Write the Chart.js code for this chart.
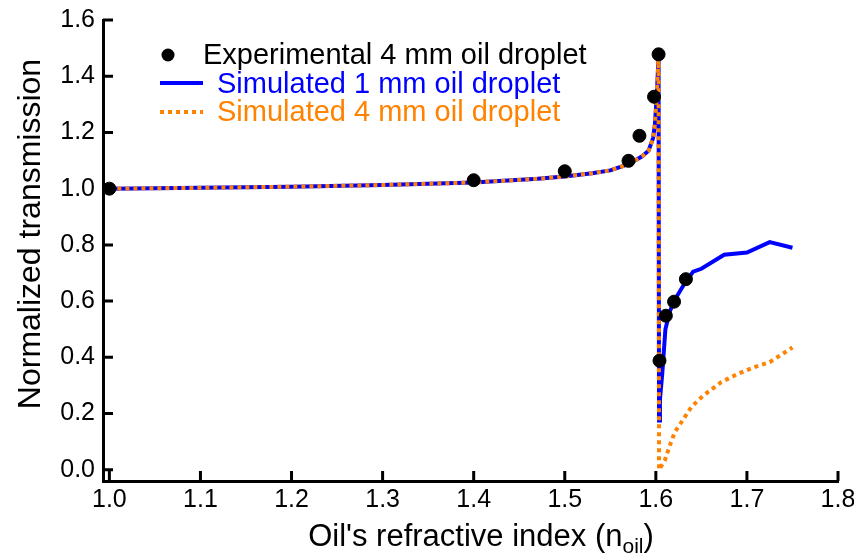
<!DOCTYPE html>
<html lang="en">
<head>
    <meta charset="UTF-8">
    <title>Normalized transmission vs refractive index</title>
    <script src="https://cdn.jsdelivr.net/npm/chart.js"></script>
    <style>
        body {
            margin: 0;
            background: white;
        }
        canvas {
            display: block;
        }
    </style>
</head>
<body>
    <canvas id="chart" width="854" height="554"></canvas>

    <script>
        // tick labels
        const xTicks = [1.0, 1.1, 1.2, 1.3, 1.4, 1.5, 1.6, 1.7, 1.8];
        const yTicks = [0.0, 0.2, 0.4, 0.6, 0.8, 1.0, 1.2, 1.4, 1.6];

        // experimental 4 mm droplet
        const expN = [1.0, 1.4, 1.5, 1.57, 1.582, 1.598, 1.603, 1.604, 1.611, 1.62, 1.633];
        const expT = [1.0, 1.03, 1.062, 1.099, 1.188, 1.327, 1.478, 0.388, 0.548, 0.598, 0.678];

        // simulated 1 mm droplet
        const sim1N = [1.0, 1.1, 1.2, 1.3, 1.4, 1.47, 1.5, 1.53, 1.55, 1.57, 1.585, 1.592, 1.597, 1.599, 1.601, 1.603,
                       1.6035, 1.6045, 1.607, 1.6105, 1.615, 1.62, 1.632, 1.641, 1.65, 1.675, 1.70, 1.725, 1.75];
        const sim1T = [1.0, 1.003, 1.007, 1.013, 1.022, 1.035, 1.043, 1.055, 1.065, 1.087, 1.115, 1.135, 1.18, 1.23, 1.33, 1.47,
                       0.175, 0.25, 0.34, 0.50, 0.56, 0.60, 0.665, 0.705, 0.715, 0.765, 0.773, 0.81, 0.79];

        // simulated 4 mm droplet
        const sim4N = [1.0, 1.1, 1.2, 1.3, 1.4, 1.47, 1.5, 1.53, 1.55, 1.57, 1.585, 1.592, 1.597, 1.599, 1.601, 1.603,
                       1.6035, 1.6098, 1.6153, 1.6208, 1.628, 1.639, 1.648, 1.657, 1.672, 1.69, 1.708, 1.725, 1.75];
        const sim4T = [1.0, 1.003, 1.007, 1.013, 1.022, 1.035, 1.043, 1.055, 1.065, 1.087, 1.115, 1.135, 1.18, 1.23, 1.33, 1.47,
                       0.0, 0.033, 0.086, 0.134, 0.169, 0.223, 0.252, 0.276, 0.312, 0.341, 0.365, 0.383, 0.435];

        const FONT = "'Liberation Sans', Arial, sans-serif";
        const BLUE = '#0000ff';
        const ORANGE = '#ff8200';

        const toPoints = (xs, ys) => xs.map((x, i) => ({x: x, y: ys[i]}));

        // inward tick marks, axis titles and the in-plot legend
        const decorations = {
            id: 'decorations',
            afterDraw(chart) {
                const ctx = chart.ctx;
                const area = chart.chartArea;
                const xs = chart.scales.x;
                const ys = chart.scales.y;
                ctx.save();
                ctx.strokeStyle = 'black';
                ctx.lineWidth = 3;
                ctx.beginPath();
                xTicks.forEach(v => {
                    const px = xs.getPixelForValue(v);
                    ctx.moveTo(px, area.bottom);
                    ctx.lineTo(px, area.bottom - 10);
                });
                yTicks.forEach(v => {
                    const py = ys.getPixelForValue(v);
                    ctx.moveTo(area.left, py);
                    ctx.lineTo(area.left + 10, py);
                });
                ctx.stroke();

                // y title
                ctx.fillStyle = 'black';
                ctx.font = '32px ' + FONT;
                ctx.textAlign = 'center';
                ctx.textBaseline = 'alphabetic';
                ctx.save();
                ctx.translate(40, 234);
                ctx.rotate(-Math.PI / 2);
                ctx.fillText('Normalized transmission', 0, 0);
                ctx.restore();

                // x title with subscript
                const main = "Oil's refractive index (n";
                ctx.font = '31px ' + FONT;
                const w1 = ctx.measureText(main).width;
                ctx.font = '21px ' + FONT;
                const w2 = ctx.measureText('oil').width;
                ctx.font = '31px ' + FONT;
                const w3 = ctx.measureText(')').width;
                let x0 = 481 - (w1 + w2 + w3) / 2;
                ctx.textAlign = 'left';
                ctx.fillText(main, x0, 546);
                ctx.font = '21px ' + FONT;
                ctx.fillText('oil', x0 + w1, 553);
                ctx.font = '31px ' + FONT;
                ctx.fillText(')', x0 + w1 + w2, 546);

                // legend
                ctx.font = '29px ' + FONT;
                ctx.fillStyle = 'black';
                ctx.beginPath();
                ctx.arc(168, 55, 6.5, 0, Math.PI * 2);
                ctx.fill();
                ctx.fillText('Experimental 4 mm oil droplet', 203, 64);

                ctx.lineWidth = 4;
                ctx.strokeStyle = BLUE;
                ctx.beginPath();
                ctx.moveTo(160, 83);
                ctx.lineTo(203, 83);
                ctx.stroke();
                ctx.fillStyle = BLUE;
                ctx.fillText('Simulated 1 mm oil droplet', 217, 93);

                ctx.strokeStyle = ORANGE;
                ctx.setLineDash([4, 4]);
                ctx.beginPath();
                ctx.moveTo(160, 112);
                ctx.lineTo(203, 112);
                ctx.stroke();
                ctx.setLineDash([]);
                ctx.fillStyle = ORANGE;
                ctx.fillText('Simulated 4 mm oil droplet', 217, 121);
                ctx.restore();
            }
        };

        const ctx = document.getElementById('chart').getContext('2d');
        new Chart(ctx, {
            type: 'scatter',
            data: {
                datasets: [
                    {
                        label: 'Experimental 4 mm oil droplet',
                        data: toPoints(expN, expT),
                        backgroundColor: 'black',
                        borderColor: 'black',
                        pointRadius: 6.5,
                        showLine: false,
                        order: 0
                    },
                    {
                        label: 'Simulated 1 mm oil droplet',
                        data: toPoints(sim1N, sim1T),
                        borderColor: BLUE,
                        borderWidth: 4,
                        pointRadius: 0,
                        showLine: true,
                        tension: 0,
                        order: 2
                    },
                    {
                        label: 'Simulated 4 mm oil droplet',
                        data: toPoints(sim4N, sim4T),
                        borderColor: ORANGE,
                        borderWidth: 4,
                        borderDash: [4, 4],
                        pointRadius: 0,
                        showLine: true,
                        tension: 0,
                        order: 1
                    }
                ]
            },
            options: {
                responsive: false,
                animation: false,
                devicePixelRatio: 1,
                layout: {
                    padding: {top: 20, right: 16, left: 0, bottom: 0}
                },
                plugins: {
                    legend: {display: false},
                    tooltip: {enabled: false}
                },
                scales: {
                    x: {
                        type: 'linear',
                        min: 0.993,
                        max: 1.8,
                        afterBuildTicks: scale => {
                            scale.ticks = xTicks.map(v => ({value: v}));
                        },
                        afterFit: scale => {
                            scale.height = 73;
                            scale.paddingLeft = 0;
                            scale.paddingRight = 0;
                        },
                        grid: {display: false, drawTicks: false},
                        border: {color: 'black', width: 3},
                        ticks: {
                            color: 'black',
                            font: {family: FONT, size: 25},
                            padding: 4,
                            maxRotation: 0,
                            callback: v => v.toFixed(1)
                        }
                    },
                    y: {
                        type: 'linear',
                        min: -0.04,
                        max: 1.6,
                        afterBuildTicks: scale => {
                            scale.ticks = yTicks.map(v => ({value: v}));
                        },
                        afterFit: scale => {
                            scale.width = 103;
                            scale.paddingTop = 0;
                            scale.paddingBottom = 0;
                        },
                        grid: {display: false, drawTicks: false},
                        border: {color: 'black', width: 3},
                        ticks: {
                            color: 'black',
                            font: {family: FONT, size: 25},
                            padding: 8,
                            callback: v => v.toFixed(1)
                        }
                    }
                }
            },
            plugins: [decorations]
        });
    </script>
</body>
</html>
